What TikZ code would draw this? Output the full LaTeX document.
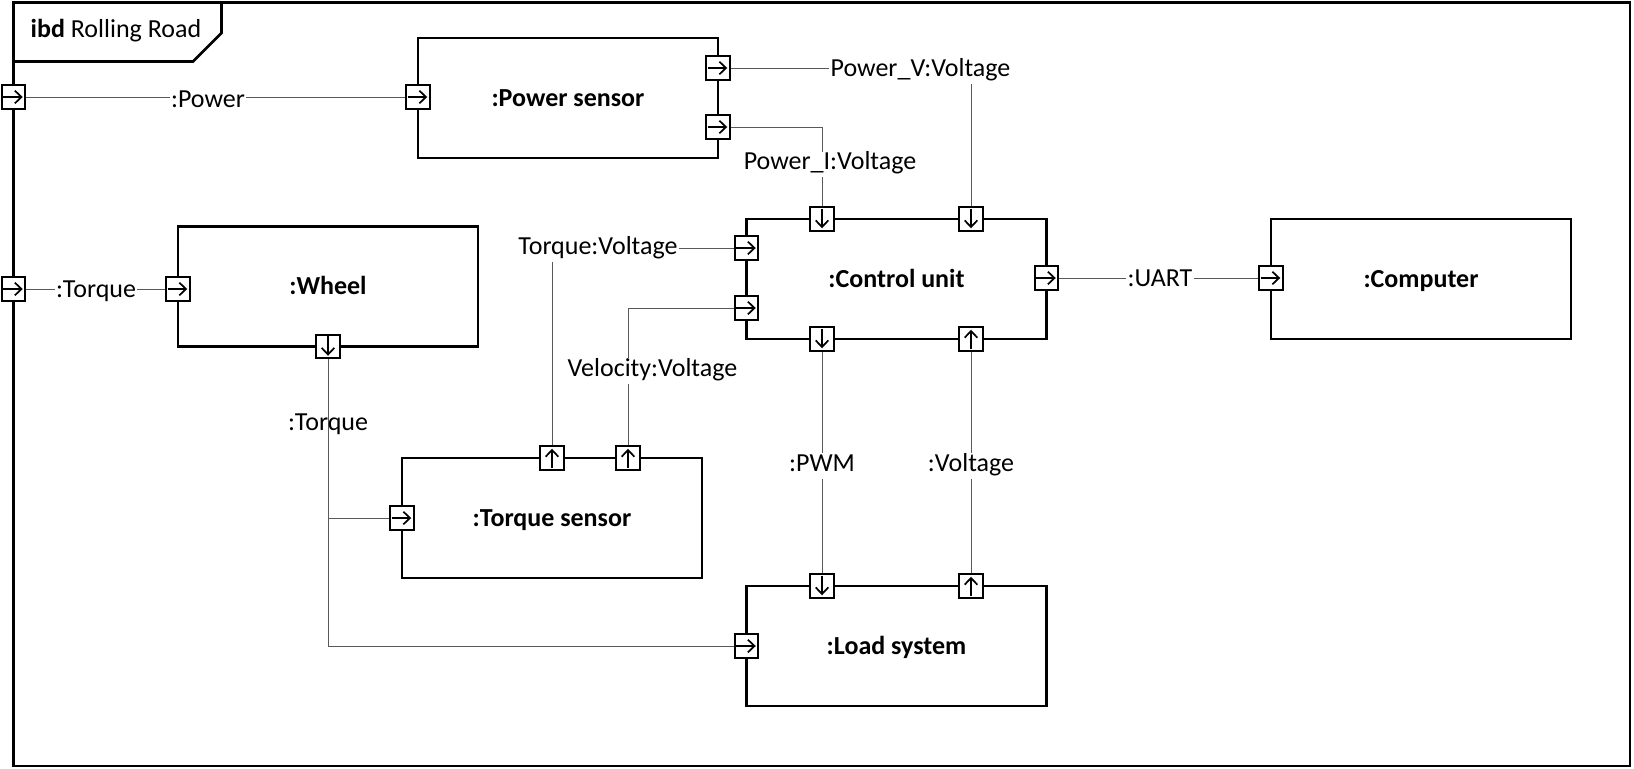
\documentclass[tikz,border=0pt]{standalone}
\usepackage{fontspec}
\setmainfont{Carlito}
\usetikzlibrary{arrows.meta}

\newcommand\diafont{\fontsize{19.5pt}{23pt}\selectfont}

\tikzset{
  block/.style={draw, line width=2.1pt, minimum width=225pt, minimum height=90pt, inner sep=0pt, text height=12.5pt, text depth=0pt, font=\diafont\bfseries},
  port/.style={draw, fill=white, line width=1.5pt, minimum size=17.5pt, inner sep=0pt},
  parrow/.style={line width=1.3pt, -{Straight Barb[length=5pt,width=9.5pt]}, shorten <=1pt, shorten >=1.8pt},
  portR/.style={port, path picture={\draw[parrow] (path picture bounding box.west) -- (path picture bounding box.east);}},
  portD/.style={port, path picture={\draw[parrow] (path picture bounding box.north) -- (path picture bounding box.south);}},
  portU/.style={port, path picture={\draw[parrow] (path picture bounding box.south) -- (path picture bounding box.north);}},
  conn/.style={draw=black!65, line width=0.75pt},
  lbl/.style={fill=white, inner sep=1pt, text height=12.5pt, text depth=4.5pt},
}

\begin{document}
\begin{tikzpicture}[x=0.75pt,y=0.75pt,yscale=-1,xscale=1,font=\diafont]
\useasboundingbox (0,0) rectangle (1634,768);

%Shape: Frame
\draw [line width=1.9pt] (13.5,2.5) rectangle (1630,766) ;
\draw [line width=1.9pt] (13.5,61.5) -- (193,61.5) -- (221.5,33) -- (221.5,2.5) ;
% Text Node
\node [anchor=west] (title) at (26,31) {\textbf{ibd} Rolling Road};

%Shape: Rectangle
\node [block] (psens) at (568,98) {:Power sensor};
%Shape: Rectangle
\node [block] (wheel) at (328,286.5) {:Wheel};
%Shape: Rectangle
\node [block] (cu) at (896.5,279) {:Control unit};
%Shape: Rectangle
\node [block] (comp) at (1421,279) {:Computer};
%Shape: Rectangle
\node [block] (tsens) at (552,518) {:Torque sensor};
%Shape: Rectangle
\node [block] (load) at (896.5,646) {:Load system};

% Ports
\node [portR] (frPow) at (13.5,97) {};
\node [portR] (frTrq) at (13.5,289) {};
\node [portR] (psIn) at (418,97) {};
\node [portR] (psV) at (718,68) {};
\node [portR] (psI) at (718,127) {};
\node [portR] (whIn) at (178,289) {};
\node [portD] (whOut) at (328,346.5) {};
\node [portD] (cuTopI) at (822,219) {};
\node [portD] (cuTopV) at (971,219) {};
\node [portR] (cuTrq) at (746.5,248) {};
\node [portR] (cuVel) at (746.5,308) {};
\node [portR] (cuOut) at (1046.5,278) {};
\node [portD] (cuPWM) at (822,339) {};
\node [portU] (cuVin) at (971,339) {};
\node [portR] (cpIn) at (1271,278) {};
\node [portR] (tsIn) at (402,518) {};
\node [portU] (tsT) at (552,458) {};
\node [portU] (tsVel) at (628,458) {};
\node [portR] (ldIn) at (746.5,646) {};
\node [portD] (ldPWM) at (822,586) {};
\node [portU] (ldV) at (971,586) {};

%Straight Lines
\draw [conn] (frPow) -- (psIn) ;
\draw [conn] (psV) -| (cuTopV) ;
\draw [conn] (psI) -| (cuTopI) ;
\draw [conn] (frTrq) -- (whIn) ;
\draw [conn] (tsT) |- (cuTrq) ;
\draw [conn] (tsVel) |- (cuVel) ;
\draw [conn] (cuOut) -- (cpIn) ;
\draw [conn] (cuPWM) -- (ldPWM) ;
\draw [conn] (ldV) -- (cuVin) ;
\draw [conn] (whOut) |- (ldIn) ;
\coordinate (tJoin) at (whOut |- tsIn) ;
\draw [conn] (tJoin) -- (tsIn) ;

% Text Node
\node [lbl] (lPow) at (208,102.5) {:Power};
% Text Node
\node [lbl] (lPV) at (920.5,71) {Power\_V:Voltage};
% Text Node
\node [lbl] (lPI) at (830,164.5) {Power\_I:Voltage};
% Text Node
\node [lbl] (lTrq) at (96,292) {:Torque};
% Text Node
\node [lbl] (lTV) at (598,249.5) {Torque:Voltage};
% Text Node
\node [lbl] (lVV) at (652.5,371) {Velocity:Voltage};
% Text Node
\node [lbl] (lUART) at (1160,281) {:UART};
% Text Node
\node [lbl] (lPWM) at (822,466) {:PWM};
% Text Node
\node [lbl] (lVin) at (971,466) {:Voltage};
% Text Node
\node [inner sep=1pt, text height=12.5pt, text depth=4.5pt] (lWT) at (328,425) {:Torque};

\end{tikzpicture}
\end{document}
